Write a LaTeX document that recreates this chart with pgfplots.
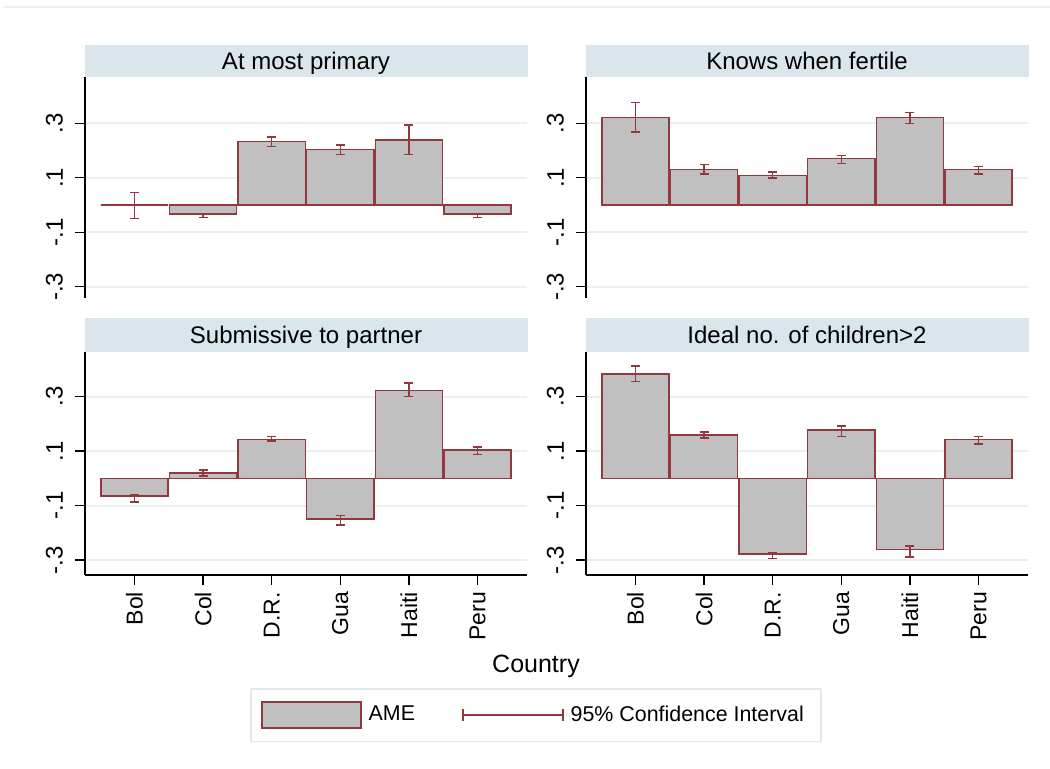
\documentclass[border=0pt]{standalone}
\usepackage{pgfplots}
\pgfplotsset{compat=1.18}
\usepackage{pgfplotstable}
\usepackage{fontspec}
\setmainfont{Liberation Sans}
\definecolor{barfill}{RGB}{192,192,192}
\definecolor{cranberry}{RGB}{148,56,63}
\definecolor{stripbg}{RGB}{218,230,236}
\definecolor{gridc}{RGB}{232,240,242}
\definecolor{legbord}{RGB}{226,234,238}

\pgfplotstableread{
x ame lo hi
0 0.000 -0.049 0.046
1 -0.034 -0.046 -0.035
2 0.233 0.215 0.249
3 0.204 0.186 0.220
4 0.238 0.186 0.294
5 -0.034 -0.046 -0.035
}\primary
\pgfplotstableread{
x ame lo hi
0 0.321 0.267 0.377
1 0.131 0.114 0.148
2 0.108 0.098 0.120
3 0.170 0.153 0.181
4 0.321 0.299 0.339
5 0.131 0.114 0.142
}\fertile
\pgfplotstableread{
x ame lo hi
0 -0.065 -0.088 -0.059
1 0.020 0.009 0.031
2 0.143 0.137 0.154
3 -0.149 -0.171 -0.137
4 0.323 0.300 0.351
5 0.104 0.088 0.116
}\submissive
\pgfplotstableread{
x ame lo hi
0 0.384 0.356 0.413
1 0.159 0.148 0.170
2 -0.278 -0.294 -0.272
3 0.178 0.153 0.193
4 -0.261 -0.290 -0.249
5 0.143 0.126 0.154
}\ideal

\pgfplotsset{
  panel/.style={
    scale only axis, anchor=south west,
    width=221pt,
    xmin=-0.72, xmax=5.72,
    ytick={-0.3,-0.1,0.1,0.3},
    yticklabels={-.3,-.1,.1,.3},
    yticklabel style={xshift=-2.5pt, rotate=90, anchor=south, font=\fontsize{12}{13}\selectfont},
    xticklabel style={rotate=90, anchor=east, font=\fontsize{11.5}{12}\selectfont},
    xtick={0,1,2,3,4,5},
    xticklabels={Bol,Col,D.R.,Gua,Haiti,Peru},
    tick align=outside,
    major tick length=5pt,
    tick style={black, line width=0.7pt},
    axis line style={black, line width=0.8pt, -},
    ymajorgrids,
    grid style={gridc, line width=1pt},
  },
  strip/.style 2 args={extra description/.append code={
    \node[fill=stripbg, anchor=south, minimum width=221.5pt, minimum height=#2,
      inner sep=0pt, text height=8.6pt, text depth=0pt,
      font=\fontsize{12}{14}\selectfont] at (0.5,1) {#1};}},
  toprow/.style={panel, height=110.5pt, ymin=-0.3415, ymax=0.470,
    axis x line=none, axis y line*=left},
  botrow/.style={panel, height=111.5pt, ymin=-0.355, ymax=0.464,
    axis x line*=bottom, axis y line*=left},
  bars/.style={ybar, bar width=0.98, fill=barfill, draw=cranberry, line width=0.8pt, forget plot},
  ci/.style={draw=none, mark=none, forget plot,
    error bars/.cd, y dir=both, y explicit,
    error bar style={draw=cranberry, line width=0.8pt},
    error mark options={rotate=90, draw=cranberry, mark size=2.25pt, line width=0.8pt}},
}

\begin{document}
\begin{tikzpicture}
\useasboundingbox (0,0) rectangle (525pt,384.5pt);
\draw[gridc, line width=0.75pt] (2pt,381pt) -- (525pt,381pt);

\begin{axis}[toprow, at={(42.5pt,235.5pt)}, strip={At most primary}{16pt}]
\addplot[bars] table[x=x, y=ame] {\primary};
\addplot[ci] table[x=x, y=ame, y error plus expr=\thisrow{hi}-\thisrow{ame}, y error minus expr=\thisrow{ame}-\thisrow{lo}] {\primary};
\end{axis}

\begin{axis}[toprow, at={(293pt,235.5pt)}, strip={Knows when fertile}{16pt}]
\addplot[bars] table[x=x, y=ame] {\fertile};
\addplot[ci] table[x=x, y=ame, y error plus expr=\thisrow{hi}-\thisrow{ame}, y error minus expr=\thisrow{ame}-\thisrow{lo}] {\fertile};
\end{axis}

\begin{axis}[botrow, at={(42.5pt,97pt)}, strip={Submissive to partner}{17pt},
  legend columns=2,
  legend style={at={(1.0204,-0.628)}, anchor=center, draw=legbord, line width=0.75pt,
    font=\fontsize{10.7}{12}\selectfont, inner xsep=5pt, inner ysep=5pt,
    nodes={inner sep=3.5pt},
    /tikz/every even column/.append style={column sep=20pt}}]
\addplot[bars] table[x=x, y=ame] {\submissive};
\addplot[ci] table[x=x, y=ame, y error plus expr=\thisrow{hi}-\thisrow{ame}, y error minus expr=\thisrow{ame}-\thisrow{lo}] {\submissive};
\addlegendimage{legend image code/.code={\draw[fill=barfill, draw=cranberry, line width=0.75pt] (0pt,-6.5pt) rectangle (49.5pt,6.5pt);}}
\addlegendentry{AME}
\addlegendimage{legend image code/.code={\draw[cranberry, line width=0.8pt] (0pt,0pt) -- (50pt,0pt) (0pt,-3pt) -- (0pt,3pt) (50pt,-3pt) -- (50pt,3pt);}}
\addlegendentry{95\% Confidence Interval}
\end{axis}

\begin{axis}[botrow, at={(293pt,97pt)}, strip={Ideal no. of children>2}{17pt}]
\addplot[bars] table[x=x, y=ame] {\ideal};
\addplot[ci] table[x=x, y=ame, y error plus expr=\thisrow{hi}-\thisrow{ame}, y error minus expr=\thisrow{ame}-\thisrow{lo}] {\ideal};
\end{axis}

\node[font=\fontsize{12.5}{14}\selectfont] at (268pt,51.5pt) {Country};
\end{tikzpicture}
\end{document}
